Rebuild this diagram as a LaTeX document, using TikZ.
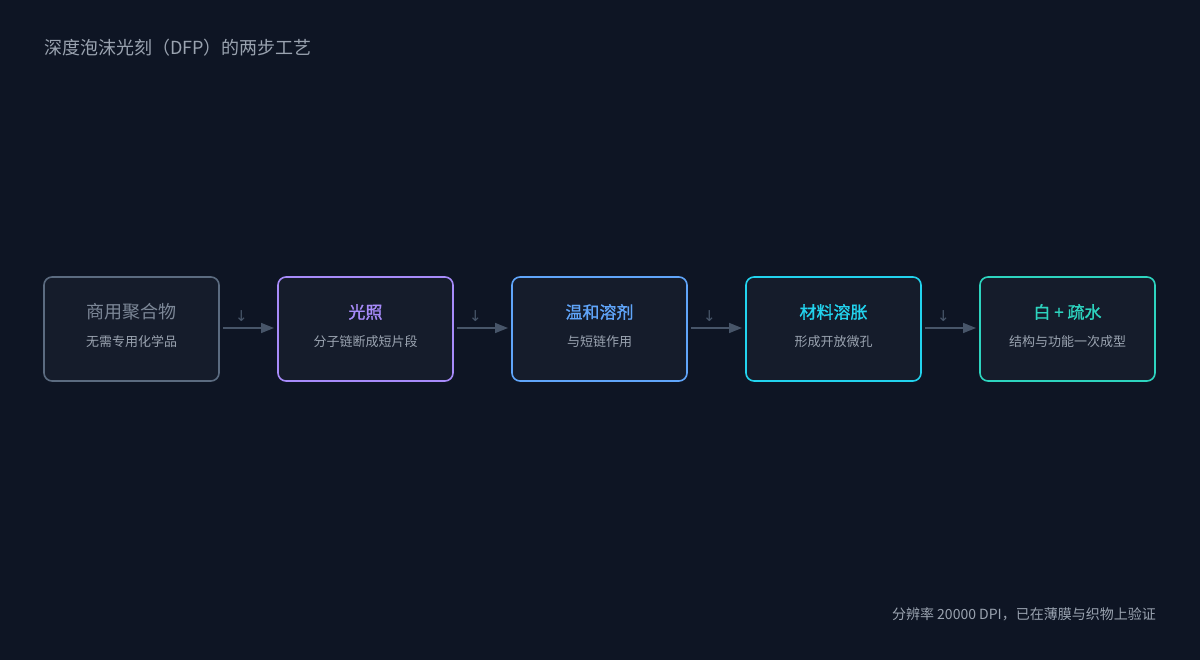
\documentclass[tikz,border=0pt]{standalone}
\usepackage{fontspec}
\setmainfont{Noto Sans CJK SC}
\newfontfamily\symfont{DejaVu Sans}
\newfontfamily\headfont[FakeBold=1.2]{Noto Sans CJK SC}
\usetikzlibrary{positioning,arrows.meta}
\definecolor{bgcol}{HTML}{0E1524}
\definecolor{boxfill}{HTML}{151C2B}
\definecolor{graycol}{HTML}{5B6B80}
\definecolor{graytxt}{HTML}{7C8797}
\definecolor{subtxt}{HTML}{9AA3B0}
\definecolor{purplecol}{HTML}{A78BFA}
\definecolor{bluecol}{HTML}{60A5FA}
\definecolor{cyancol}{HTML}{22D3EE}
\definecolor{tealcol}{HTML}{2DD4BF}
\definecolor{arrowcol}{HTML}{475569}
\tikzset{
  step/.style={draw=#1, line width=1.6pt, fill=boxfill, rounded corners=8pt,
    minimum width=175pt, minimum height=104pt, inner sep=0pt, outer sep=0pt},
  head/.style={font=\headfont\fontsize{17}{20}\selectfont, text=#1},
  sub/.style={font=\fontsize{13}{16}\selectfont, text=subtxt},
  flow/.style={draw=arrowcol, line width=1.5pt, -{Triangle[length=13pt,width=10pt]}},
  downmark/.style={font=\symfont\fontsize{15}{17}\selectfont, text=arrowcol}
}
\begin{document}
\begin{tikzpicture}[x=1pt,y=-1pt]

% background %{{{2

	\fill[bgcol] (0,0) rectangle (1200,660);
	\useasboundingbox (0,0) rectangle (1200,660);

% title %{{{2

	\node[anchor=west, inner sep=0pt, font=\fontsize{18}{22}\selectfont, text=subtxt] (title) at (44,48) {深度泡沫光刻（DFP）的两步工艺};

% steps %{{{2

	\node[step=graycol] (S1) at (131.5,329) {};
	\node[step=purplecol, right=59pt of S1] (S2) {};
	\node[step=bluecol, right=59pt of S2] (S3) {};
	\node[step=cyancol, right=59pt of S3] (S4) {};
	\node[step=tealcol, right=59pt of S4] (S5) {};

% labels %{{{2

	\node[head=graytxt, font=\fontsize{18}{20}\selectfont] (H1) at ([yshift=17pt]S1.center) {商用聚合物};
	\node[head=purplecol] (H2) at ([yshift=17pt]S2.center) {光照};
	\node[head=bluecol] (H3) at ([yshift=17pt]S3.center) {温和溶剂};
	\node[head=cyancol] (H4) at ([yshift=17pt]S4.center) {材料溶胀};
	\node[head=tealcol] (H5) at ([yshift=17pt]S5.center) {白 + 疏水};

	\node[sub] (T1) at ([yshift=-13pt]S1.center) {无需专用化学品};
	\node[sub] (T2) at ([yshift=-13pt]S2.center) {分子链断成短片段};
	\node[sub] (T3) at ([yshift=-13pt]S3.center) {与短链作用};
	\node[sub] (T4) at ([yshift=-13pt]S4.center) {形成开放微孔};
	\node[sub] (T5) at ([yshift=-13pt]S5.center) {结构与功能一次成型};

% arrows %{{{2

	\foreach \a/\b in {1/2,2/3,3/4,4/5} {
		\draw[flow] ([xshift=4pt,yshift=1pt]S\a.east) -- ([xshift=-4pt,yshift=1pt]S\b.west)
			node[midway, above=6pt, inner sep=0pt, xshift=-7pt, downmark] (M\a) {↓};
	}

% footnote %{{{2

	\node[anchor=east, inner sep=0pt, font=\fontsize{14}{17}\selectfont, text=subtxt] (note) at (1156,614) {分辨率 20000 DPI，已在薄膜与织物上验证};

% closing %{{{2

\end{tikzpicture}
\end{document}
